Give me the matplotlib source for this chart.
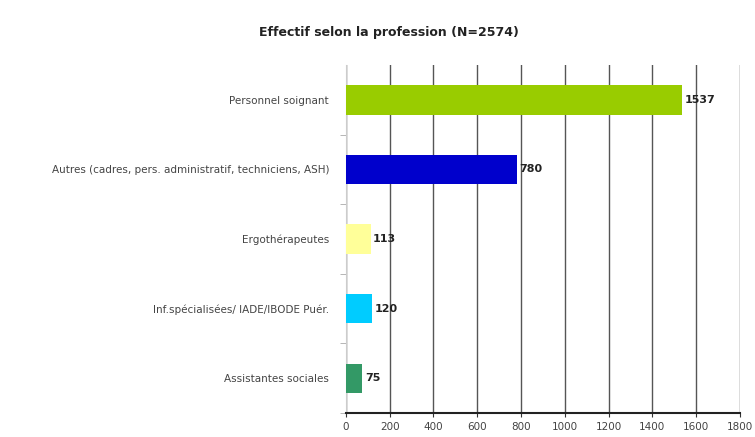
import matplotlib
matplotlib.use("Agg")
import matplotlib.pyplot as plt


# data

professions = [
    "Personnel soignant",
    "Autres (cadres, pers. administratif, techniciens, ASH)",
    "Ergothérapeutes",
    "Inf.spécialisées/ IADE/IBODE Puér.",
    "Assistantes sociales",
]
effectifs = [1537, 780, 113, 120, 75]
couleurs = ["#99CC00", "#0000CC", "#FFFF99", "#00CCFF", "#339966"]
ticks = [0, 200, 400, 600, 800, 1000, 1200, 1400, 1600, 1800]


fig = plt.figure(figsize=(7.55, 4.37), dpi=100)
ax = fig.add_axes([0.458, 0.055, 0.522, 0.796])

ypos = list(range(len(professions)))[::-1]
ax.barh(ypos, effectifs, height=0.42, color=couleurs, zorder=3)

for y, v in zip(ypos, effectifs):
    ax.text(v + 12, y, str(v), va="center", ha="left", fontsize=8,
            fontweight="bold", color="#222222", zorder=4)

ax.set_xlim(0, 1800)
ax.set_ylim(-0.5, len(professions) - 0.5)
ax.set_xticks(ticks)
ax.set_xticklabels([str(t) for t in ticks], fontsize=7.5, color="#444444")
ax.set_yticks(ypos)
ax.set_yticklabels(professions, fontsize=7.5, color="#444444")
ax.set_yticks([y + 0.5 for y in ypos[1:]] + [-0.5], minor=True)

ax.tick_params(axis="y", which="major", length=0, pad=12)
ax.tick_params(axis="y", which="minor", length=4, color="#aaaaaa")
ax.tick_params(axis="x", length=3, color="#333333")

ax.grid(axis="x", color="#555555", linewidth=1.0, zorder=0)
for s in ["top", "right"]:
    ax.spines[s].set_visible(False)
ax.spines["left"].set_color("#cccccc")
ax.spines["bottom"].set_color("#222222")
ax.spines["bottom"].set_linewidth(1.5)

fig.text(0.515, 0.925, "Effectif selon la profession (N=2574)", ha="center",
         va="center", fontsize=9, fontweight="bold", color="#222222")

fig.savefig("out.png", dpi=100, facecolor="white")
